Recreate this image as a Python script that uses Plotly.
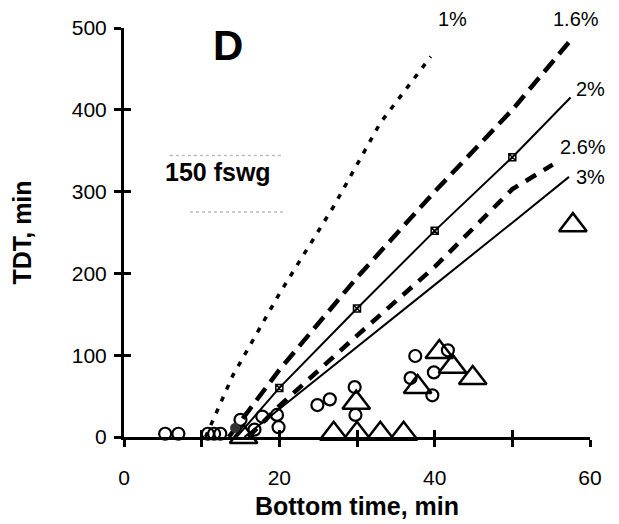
import plotly.graph_objects as go

# ---- data ----
x_1pct = [10.5, 14, 20, 27, 33, 39.5]
y_1pct = [0, 75, 175, 282, 384, 465]

x_16pct = [13.5, 20, 30, 40, 50, 57.5]
y_16pct = [0, 82, 195, 300, 400, 485]

x_2pct = [14.5, 20, 30, 40, 50, 57.5]
y_2pct = [0, 60, 157, 252, 342, 415]

x_26pct = [16, 20, 30, 40, 50, 55.2]
y_26pct = [0, 38, 124, 208, 303, 333]

x_3pct = [15.5, 20, 30, 40, 50, 57.3]
y_3pct = [0, 34, 110, 186, 262, 318]

circ_x = [5.3, 7.0, 10.8, 11.6, 12.4, 15.0, 16.8, 17.8, 19.7, 19.9,
          24.9, 26.5, 29.7, 29.8, 37.5, 36.9, 39.7, 39.9, 41.7]
circ_y = [4, 4, 4, 4, 4, 21, 9, 25, 27, 12,
          39, 46, 61, 27, 99, 72, 51, 79, 106]

tri_x = [15.4, 27, 30, 33, 36, 29.9, 40.6, 42.3, 44.9, 37.8, 57.8]
tri_y = [0, 4, 4, 4, 4, 42, 104, 86, 72, 61, 259]

filled_x = [14.3]
filled_y = [11]

x_ticks = [0, 10, 20, 30, 40, 50, 60]
x_ticktext = ["0", "", "20", "", "40", "", "60"]
y_ticks = [0, 100, 200, 300, 400, 500]

curve_labels = ["1%", "1.6%", "2%", "2.6%", "3%"]
label_px = [0.706, 0.97, 1.0, 0.985, 1.0]
label_py = [1.022, 1.022, 0.85, 0.71, 0.635]

FONT = "Liberation Sans, Arial, sans-serif"

fig = go.Figure()

fig.add_trace(go.Scatter(x=x_1pct, y=y_1pct, mode="lines",
                         line=dict(color="black", width=3.5, dash="5px,8px"),
                         cliponaxis=False))
fig.add_trace(go.Scatter(x=x_16pct, y=y_16pct, mode="lines",
                         line=dict(color="black", width=4.5, dash="15px,8px"),
                         cliponaxis=False))
fig.add_trace(go.Scatter(x=x_2pct, y=y_2pct, mode="lines",
                         line=dict(color="black", width=2),
                         cliponaxis=False))
fig.add_trace(go.Scatter(x=x_2pct[1:-1], y=y_2pct[1:-1], mode="markers",
                         marker=dict(symbol="square-x-open", size=7, color="black",
                                     line=dict(width=1.5)),
                         cliponaxis=False))
fig.add_trace(go.Scatter(x=x_26pct, y=y_26pct, mode="lines",
                         line=dict(color="black", width=4.5, dash="12px,9px"),
                         cliponaxis=False))
fig.add_trace(go.Scatter(x=x_3pct, y=y_3pct, mode="lines",
                         line=dict(color="black", width=2),
                         cliponaxis=False))

fig.add_trace(go.Scatter(x=circ_x, y=circ_y, mode="markers",
                         marker=dict(symbol="circle-open", size=12, color="black",
                                     line=dict(width=2.2)),
                         cliponaxis=False))
fig.add_trace(go.Scatter(x=tri_x, y=tri_y, mode="markers",
                         marker=dict(symbol="triangle-up-open", size=24, color="black",
                                     line=dict(width=2.5)),
                         cliponaxis=False))
fig.add_trace(go.Scatter(x=filled_x, y=filled_y, mode="markers",
                         marker=dict(symbol="circle", size=10, color="#333"),
                         cliponaxis=False))

# overlay axes to draw inward half of crossing ticks
fig.add_trace(go.Scatter(x=[0], y=[0], mode="markers", marker=dict(opacity=0),
                         hoverinfo="skip", xaxis="x2", yaxis="y2"))

for t, lx, ly in zip(curve_labels, label_px, label_py):
    fig.add_annotation(x=lx, y=ly, xref="paper", yref="paper", text=t,
                       showarrow=False, xanchor="center", yanchor="middle",
                       font=dict(family=FONT, size=20, color="black"))

fig.add_annotation(x=0.223, y=0.958, xref="paper", yref="paper", text="<b>D</b>",
                   showarrow=False, xanchor="center", yanchor="middle",
                   font=dict(family=FONT, size=42, color="black"))
fig.add_annotation(x=0.202, y=0.648, xref="paper", yref="paper",
                   text="<b>150 fswg</b>", showarrow=False,
                   xanchor="center", yanchor="middle",
                   font=dict(family=FONT, size=25, color="black"))

# faint dotted guide lines around the depth label
fig.add_shape(type="line", xref="x", yref="y", x0=5.9, x1=20.5, y0=344, y1=344,
              line=dict(color="#bbbbbb", width=1.5, dash="dot"))
fig.add_shape(type="line", xref="x", yref="y", x0=8.5, x1=20.8, y0=275, y1=275,
              line=dict(color="#bbbbbb", width=1.5, dash="dot"))

axis_common = dict(showgrid=False, zeroline=False, automargin=False)

# the page body adds an 8px margin, so the figure is 8px smaller each way
fig.update_layout(
    width=611, height=516,
    margin=dict(l=116, r=29, t=20, b=87),
    paper_bgcolor="white", plot_bgcolor="white",
    showlegend=False,
    font=dict(family=FONT, color="black"),
    xaxis=dict(range=[0, 60], tickvals=x_ticks, ticktext=x_ticktext,
               ticks="outside", ticklen=7, tickwidth=2.5, tickcolor="black",
               showline=True, linewidth=3, linecolor="black",
               tickfont=dict(family=FONT, size=21, color="black"),
               ticklabelstandoff=13,
               title=dict(text="<b>Bottom time, min</b>",
                          font=dict(family=FONT, size=25, color="black"),
                          standoff=10),
               **axis_common),
    yaxis=dict(range=[0, 500], tickvals=y_ticks,
               ticks="outside", ticklen=7, tickwidth=2.5, tickcolor="black",
               showline=True, linewidth=3, linecolor="black",
               tickfont=dict(family=FONT, size=21, color="black"),
               ticklabelstandoff=3,
               title=dict(text="<b>TDT, min</b>",
                          font=dict(family=FONT, size=25, color="black"),
                          standoff=42),
               **axis_common),
    xaxis2=dict(range=[0, 60], tickvals=x_ticks, overlaying="x", anchor="y2",
                side="bottom", ticks="inside", ticklen=7, tickwidth=2.5,
                tickcolor="black", showticklabels=False, showline=False,
                **axis_common),
    yaxis2=dict(range=[0, 500], tickvals=y_ticks, overlaying="y", anchor="x2",
                side="left", ticks="inside", ticklen=7, tickwidth=2.5,
                tickcolor="black", showticklabels=False, showline=False,
                **axis_common),
)

fig.write_html("out.html")
